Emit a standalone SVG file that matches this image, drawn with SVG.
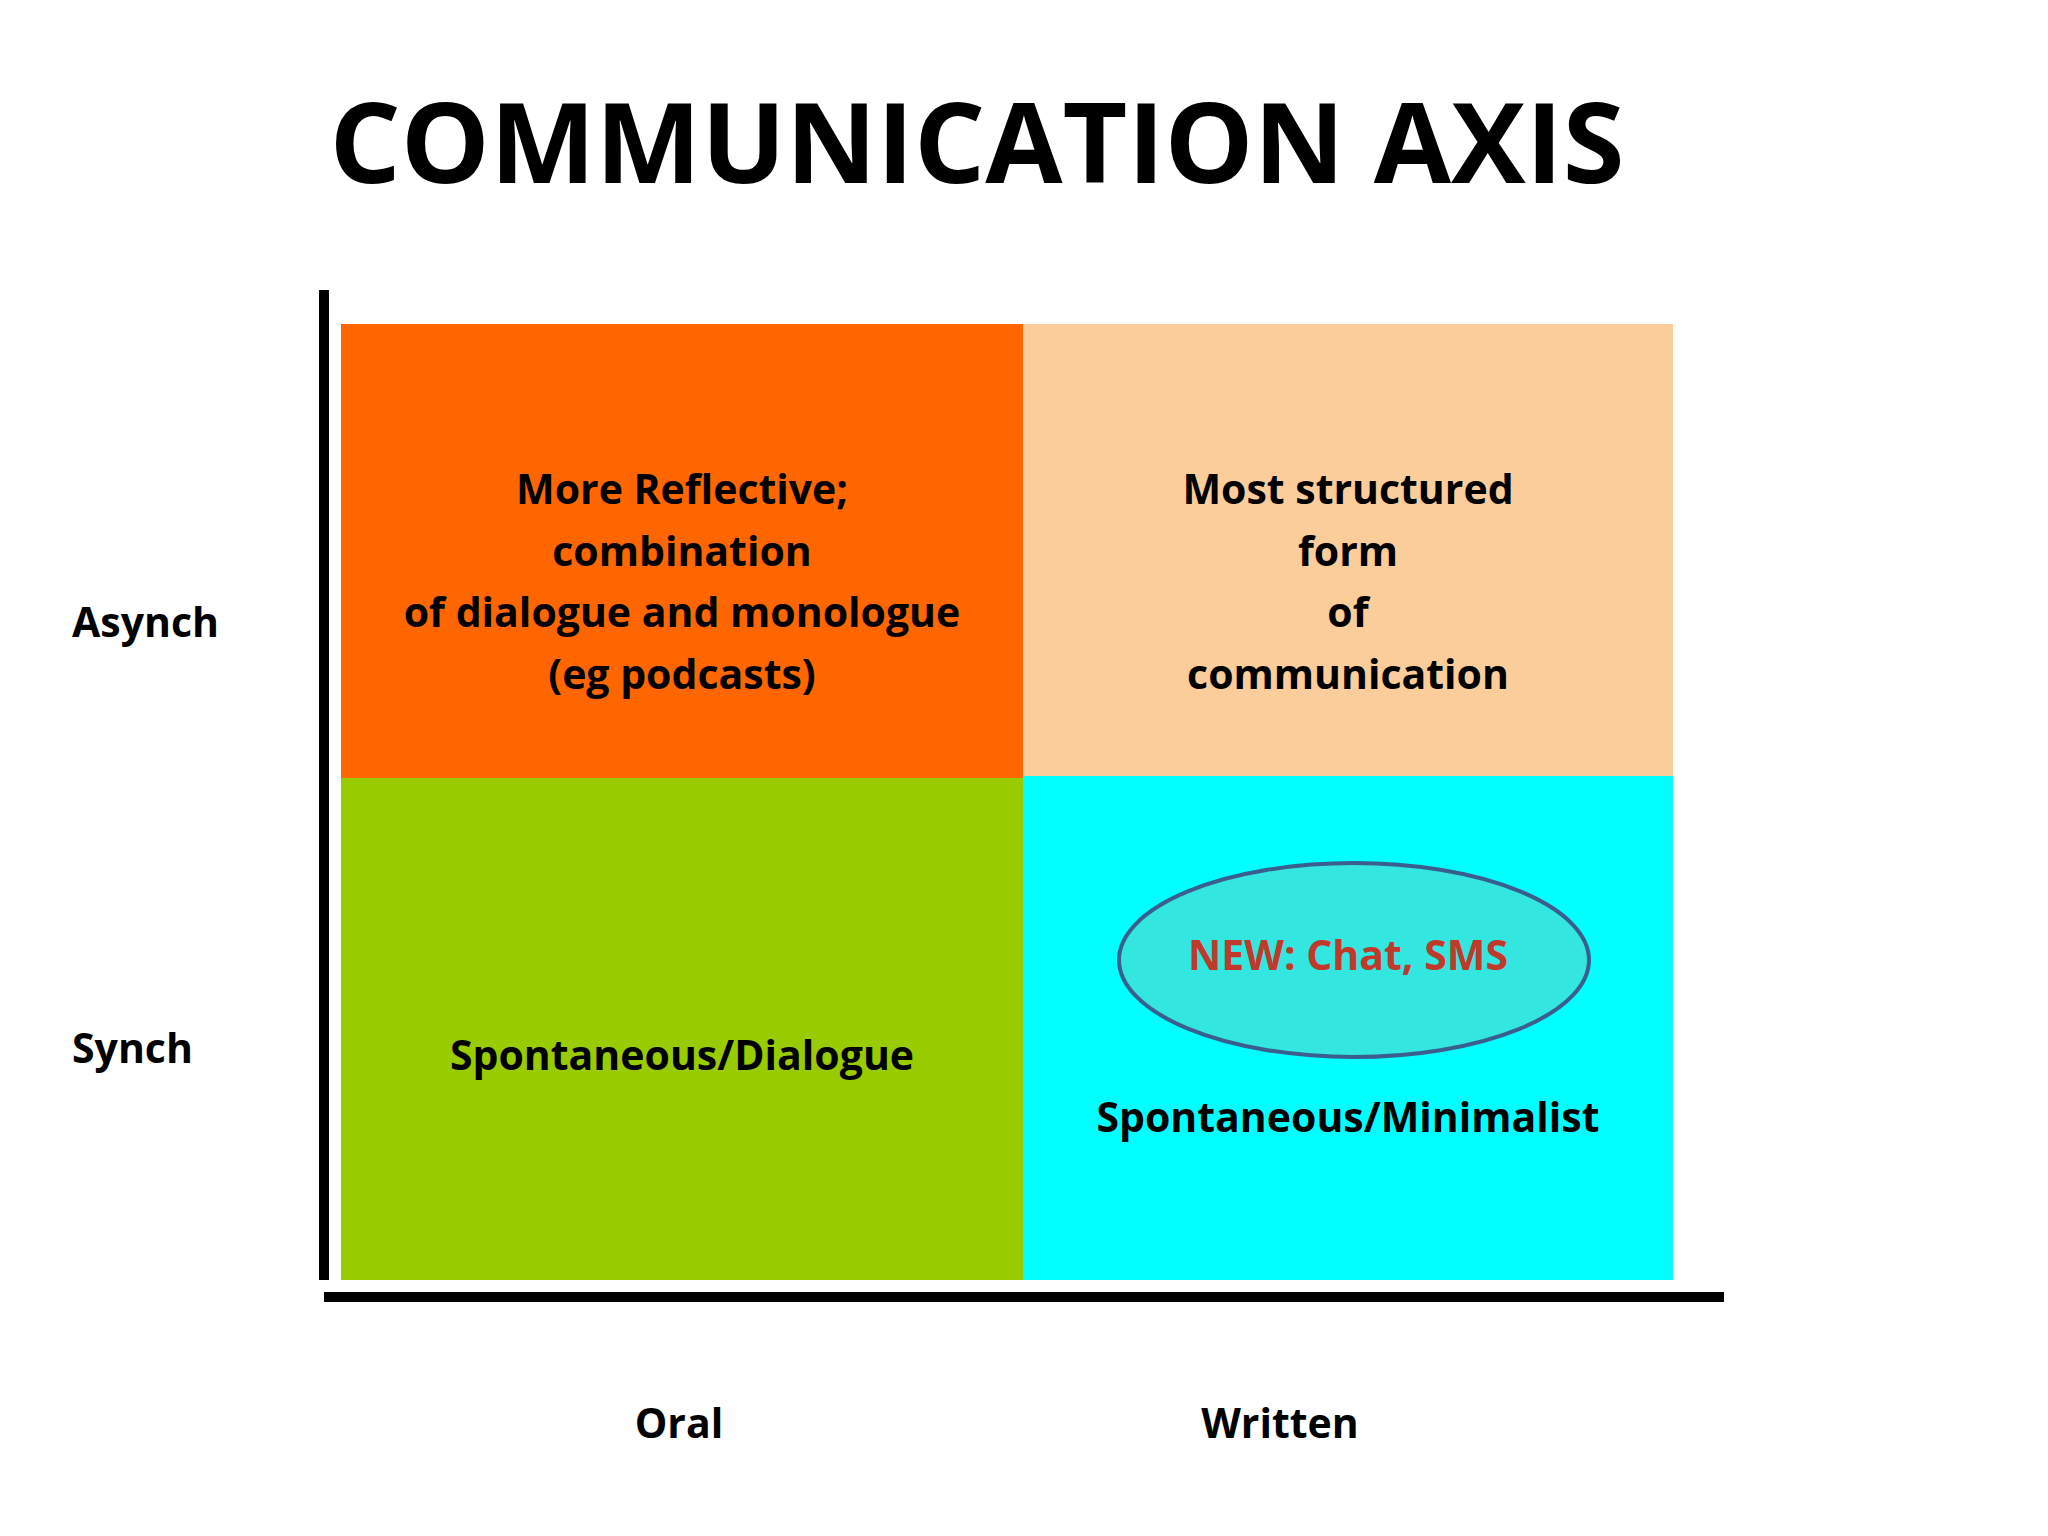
<svg xmlns="http://www.w3.org/2000/svg" width="2048" height="1536" viewBox="0 0 2048 1536">
<style>
text{font-family:"Open Sans","Liberation Sans",sans-serif;font-weight:bold;fill:#000}
.q{font-size:41px;text-anchor:middle}
.ax{font-size:41px}
</style>
<rect width="2048" height="1536" fill="#fff"/>
<text x="977" y="183" font-size="112" text-anchor="middle">COMMUNICATION AXIS</text>
<g id="q-async-oral"><rect x="341" y="324" width="682" height="454" fill="#ff6600"/>
<text class="q" x="682" y="504">More Reflective;</text><text class="q" x="682" y="566">combination</text><text class="q" x="682" y="627">of dialogue and monologue</text><text class="q" x="682" y="689">(eg podcasts)</text></g>
<g id="q-async-written"><rect x="1023" y="324" width="650" height="452" fill="#fbcd9a"/>
<text class="q" x="1348" y="504">Most structured</text><text class="q" x="1348" y="566">form</text><text class="q" x="1348" y="627">of</text><text class="q" x="1348" y="689">communication</text></g>
<g id="q-sync-oral"><rect x="341" y="778" width="682" height="502" fill="#99cc00"/>
<text class="q" x="682" y="1070">Spontaneous/Dialogue</text></g>
<g id="q-sync-written"><rect x="1023" y="776" width="650" height="504" fill="#00ffff"/>
<text class="q" x="1348" y="1132">Spontaneous/Minimalist</text></g>
<g id="ellipse"><ellipse cx="1354" cy="960" rx="235" ry="97" fill="#33e6e0" stroke="#3a5f8f" stroke-width="4"/>
<text class="q" x="1348" y="970" fill="#c0392b" style="fill:#c0392b">NEW: Chat, SMS</text></g>
<g id="axes"><line x1="324" y1="290" x2="324" y2="1280" stroke="#000" stroke-width="10"/>
<line x1="324" y1="1297" x2="1724" y2="1297" stroke="#000" stroke-width="10"/></g>
<text class="ax" x="72" y="637">Asynch</text>
<text class="ax" x="72" y="1063">Synch</text>
<text class="q" x="679" y="1438">Oral</text>
<text class="q" x="1280" y="1438">Written</text>
</svg>
